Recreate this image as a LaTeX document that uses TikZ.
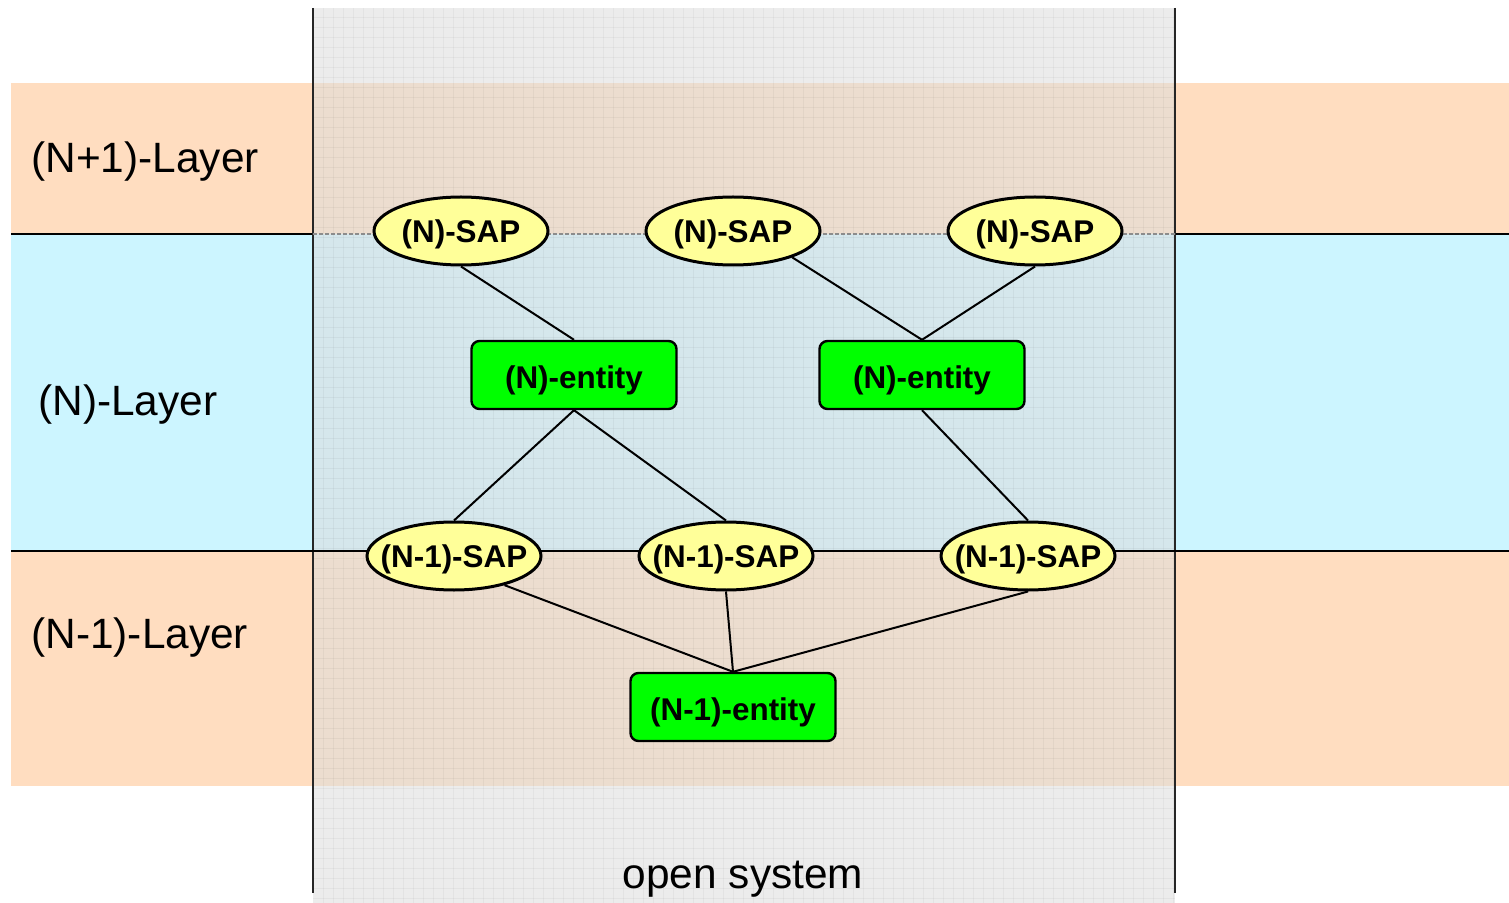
\documentclass[tikz,border=0pt]{standalone}
\usepackage{fontspec}
\setmainfont{Liberation Sans}
\usetikzlibrary{shapes.geometric}
\definecolor{peach}{HTML}{FFDDC0}
\definecolor{skyc}{HTML}{CCF5FF}
\definecolor{sapfill}{HTML}{FFFF99}
\definecolor{entfill}{HTML}{00FF00}
\definecolor{osgray}{HTML}{DDDDDD}
\newcommand{\fixlbl}[2][-5.8pt]{\makebox[0pt][c]{\raisebox{#1}[0pt][0pt]{#2}}}
\tikzset{
  sap/.style={ellipse, draw=black, line width=1.5pt, fill=sapfill, minimum width=87pt, minimum height=34pt, inner sep=0pt, font=\fontsize{15.7}{18}\selectfont\bfseries},
  entbox/.style={rectangle, rounded corners=4pt, draw=black, line width=1.2pt, fill=entfill, minimum width=102.5pt, minimum height=34pt, inner sep=0pt, font=\fontsize{15.7}{18}\selectfont\bfseries},
  conn/.style={line width=1pt, black},
  layerlbl/.style={font=\fontsize{21.2}{25}\selectfont, inner sep=0pt, anchor=west},
  bandline/.style={line width=1.2pt, black}
}
\begin{document}
\begin{tikzpicture}[x=0.5pt,y=-0.5pt]
\useasboundingbox (0,0) rectangle (1509,903);
% bands
\fill[peach] (11,83) rectangle (1509,234);
\fill[skyc] (11,234) rectangle (1509,551);
\fill[peach] (11,551) rectangle (1509,786);
% band lines outside
\draw[bandline] (11,234) -- (313,234);
\draw[bandline] (1175,234) -- (1509,234);
% open system overlay
\fill[osgray, opacity=0.55] (313,8) rectangle (1175,903);
\foreach \gx in {323,333,...,1173} {\draw[black, opacity=0.04, line width=0.5pt] (\gx,8) -- (\gx,903);}
\foreach \gy in {18,28,...,903} {\draw[black, opacity=0.04, line width=0.5pt] (313,\gy) -- (1175,\gy);}
\draw[line width=1.1pt, black!85] (313,8) -- (313,893);
\draw[line width=1.1pt, black!85] (1175,8) -- (1175,893);
% inner line at 234
\draw[line width=1.2pt, black!45, dashed, dash pattern=on 2pt off 1pt] (313,234) -- (1175,234);
% line at 551
\draw[bandline] (11,551) -- (1509,551);
% labels
\node[layerlbl] (l1) at (31,162) {(N+1)-Layer};
\node[layerlbl] (l2) at (38,405) {(N)-Layer};
\node[layerlbl] (l3) at (31,638) {(N-1)-Layer};
\node[font=\fontsize{21.2}{25}\selectfont, inner sep=0pt] (os) at (743,879) {open system};
% nodes
\node[sap] (s1) at (461,231) {\fixlbl{(N)-SAP}};
\node[sap] (s2) at (733,231) {\fixlbl{(N)-SAP}};
\node[sap] (s3) at (1035,231) {\fixlbl{(N)-SAP}};
\node[entbox] (e1) at (574,375) {\fixlbl[-6.6pt]{(N)-entity}};
\node[entbox] (e2) at (922,375) {\fixlbl[-6.6pt]{(N)-entity}};
\node[sap] (t1) at (454,556) {\fixlbl{(N-1)-SAP}};
\node[sap] (t2) at (726,556) {\fixlbl{(N-1)-SAP}};
\node[sap] (t3) at (1028,556) {\fixlbl{(N-1)-SAP}};
\node[entbox] (f1) at (733,707) {\fixlbl[-6.6pt]{(N-1)-entity}};
% connectors
\draw[conn] (s1.south) -- (e1.north);
\draw[conn] (s2.-24) -- (e2.north);
\draw[conn] (s3.south) -- (e2.north);
\draw[conn] (e1.south) -- (t1.north);
\draw[conn] (e1.south) -- (t2.north);
\draw[conn] (e2.south) -- (t3.north);
\draw[conn] (t1.-30) -- (f1.north);
\draw[conn] (t2.south) -- (f1.north);
\draw[conn] (t3.south) -- (f1.north);
\end{tikzpicture}
\end{document}
